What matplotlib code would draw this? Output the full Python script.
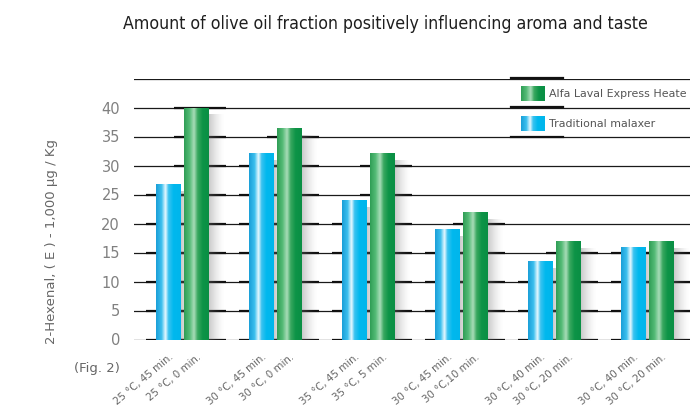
import numpy as np
import matplotlib.pyplot as plt
from matplotlib.colors import LinearSegmentedColormap

# data
traditional = [26.8, 32.2, 24.0, 19.1, 13.6, 16.0]
alfa_laval = [40.0, 36.4, 32.2, 22.0, 17.0, 17.0]
labels_trad = ["25 °C, 45 min.", "30 °C, 45 min.", "35 °C, 45 min.",
               "30 °C, 45 min.", "30 °C, 40 min.", "30 °C, 40 min."]
labels_alfa = ["25 °C, 0 min.", "30 °C, 0 min.", "35 °C, 5 min.",
               "30 °C,10 min.", "30 °C, 20 min.", "30 °C, 20 min."]
yticks = [0, 5, 10, 15, 20, 25, 30, 35, 40]

blue_cmap = LinearSegmentedColormap.from_list(
    "blue", [(0, "#1a9fd8"), (0.22, "#3cc0ee"), (0.38, "#e8f8ff"),
             (0.5, "#3cc3f0"), (0.7, "#00b8ee"), (1, "#00b6ec")])
green_cmap = LinearSegmentedColormap.from_list(
    "green", [(0, "#2f9e55"), (0.22, "#55bb77"), (0.4, "#a8dcb8"),
              (0.55, "#3aa860"), (0.75, "#0d9447"), (1, "#0a8f44")])

fig = plt.figure(figsize=(6.9, 4.06), dpi=100)
ax = fig.add_axes([134 / 690, 65 / 406, 1 - 134 / 690, 261 / 406])
ax.set_xlim(-0.52, 5.457)
ax.set_ylim(0, 45)
ax.axis("off")

px = 1 / 93.0  # one pixel in x data units
w = 24 * px
off = 14 * px
grad = np.linspace(0, 1, 64).reshape(1, -1)

# grid lines
for v in yticks + [45]:
    ax.axhline(v, color="#1a1a1a", lw=0.9, zorder=1)

x = np.arange(len(traditional))
for i in x:
    for xc, h, cmap in [(i - off, traditional[i], blue_cmap),
                        (i + off, alfa_laval[i], green_cmap)]:
        x0, x1 = xc - w / 2, xc + w / 2
        # darker grid segments behind the bar
        for v in yticks:
            if v <= h:
                ax.plot([x0 - 10 * px, x1 + 18 * px], [v, v], color="#111111",
                        lw=1.6, zorder=2, solid_capstyle="butt")
        # soft shadow on the right
        sh = np.zeros((1, 64, 4))
        sh[..., :3] = 0.45
        sh[..., 3] = np.linspace(0.55, 0, 64) ** 1.5
        ax.imshow(sh, extent=(x1, x1 + 16 * px, -0.6, h - 1.2), aspect="auto",
                  zorder=3, interpolation="bilinear")
        ax.imshow(grad, extent=(x0, x1, 0, h), cmap=cmap, aspect="auto",
                  zorder=4, interpolation="bilinear")

# x labels
for i in x:
    for xc, lab in [(i - off, labels_trad[i]), (i + off, labels_alfa[i])]:
        ax.annotate(lab, (xc, 0), xytext=(0, -8), textcoords="offset points",
                    rotation=40, ha="right", va="top", rotation_mode="anchor",
                    fontsize=7.4, color="#666666")

# y tick labels
for v in yticks:
    ax.annotate(str(v), (-0.52, v), xytext=(-10, 0), textcoords="offset points",
                ha="right", va="center", fontsize=10.5, color="#808080")

fig.text(52 / 690, 1 - 242 / 406, "2-Hexenal, ( E ) - 1,000 µg / Kg", rotation=90,
         ha="center", va="center", fontsize=9.5, color="#666666")
fig.text(120 / 690, 1 - 369 / 406, "(Fig. 2)", ha="right", va="center",
         fontsize=9.5, color="#666666")

fig.text(385 / 690, 1 - 24 / 406,
         "Amount of olive oil fraction positively influencing aroma and taste",
         ha="center", va="center", fontsize=12.7, color="#1e1e1e",
         family="DejaVu Sans", fontstretch="condensed")

# legend drawn by hand
for yy in [79, 108, 138]:
    fig.add_artist(plt.Line2D([511 / 690, 563 / 690], [1 - yy / 406] * 2,
                              color="#111111", lw=1.6))
leg = [(94, green_cmap, "Alfa Laval Express Heate"),
       (124, blue_cmap, "Traditional malaxer")]
for yc, cmap, txt in leg:
    lax = fig.add_axes([521 / 690, 1 - (yc + 7.5) / 406, 24 / 690, 15 / 406])
    lax.imshow(grad, cmap=cmap, aspect="auto", interpolation="bilinear")
    lax.axis("off")
    fig.text(549 / 690, 1 - yc / 406, txt, ha="left", va="center",
             fontsize=7.9, color="#555555")

fig.savefig("out.png", dpi=100)
